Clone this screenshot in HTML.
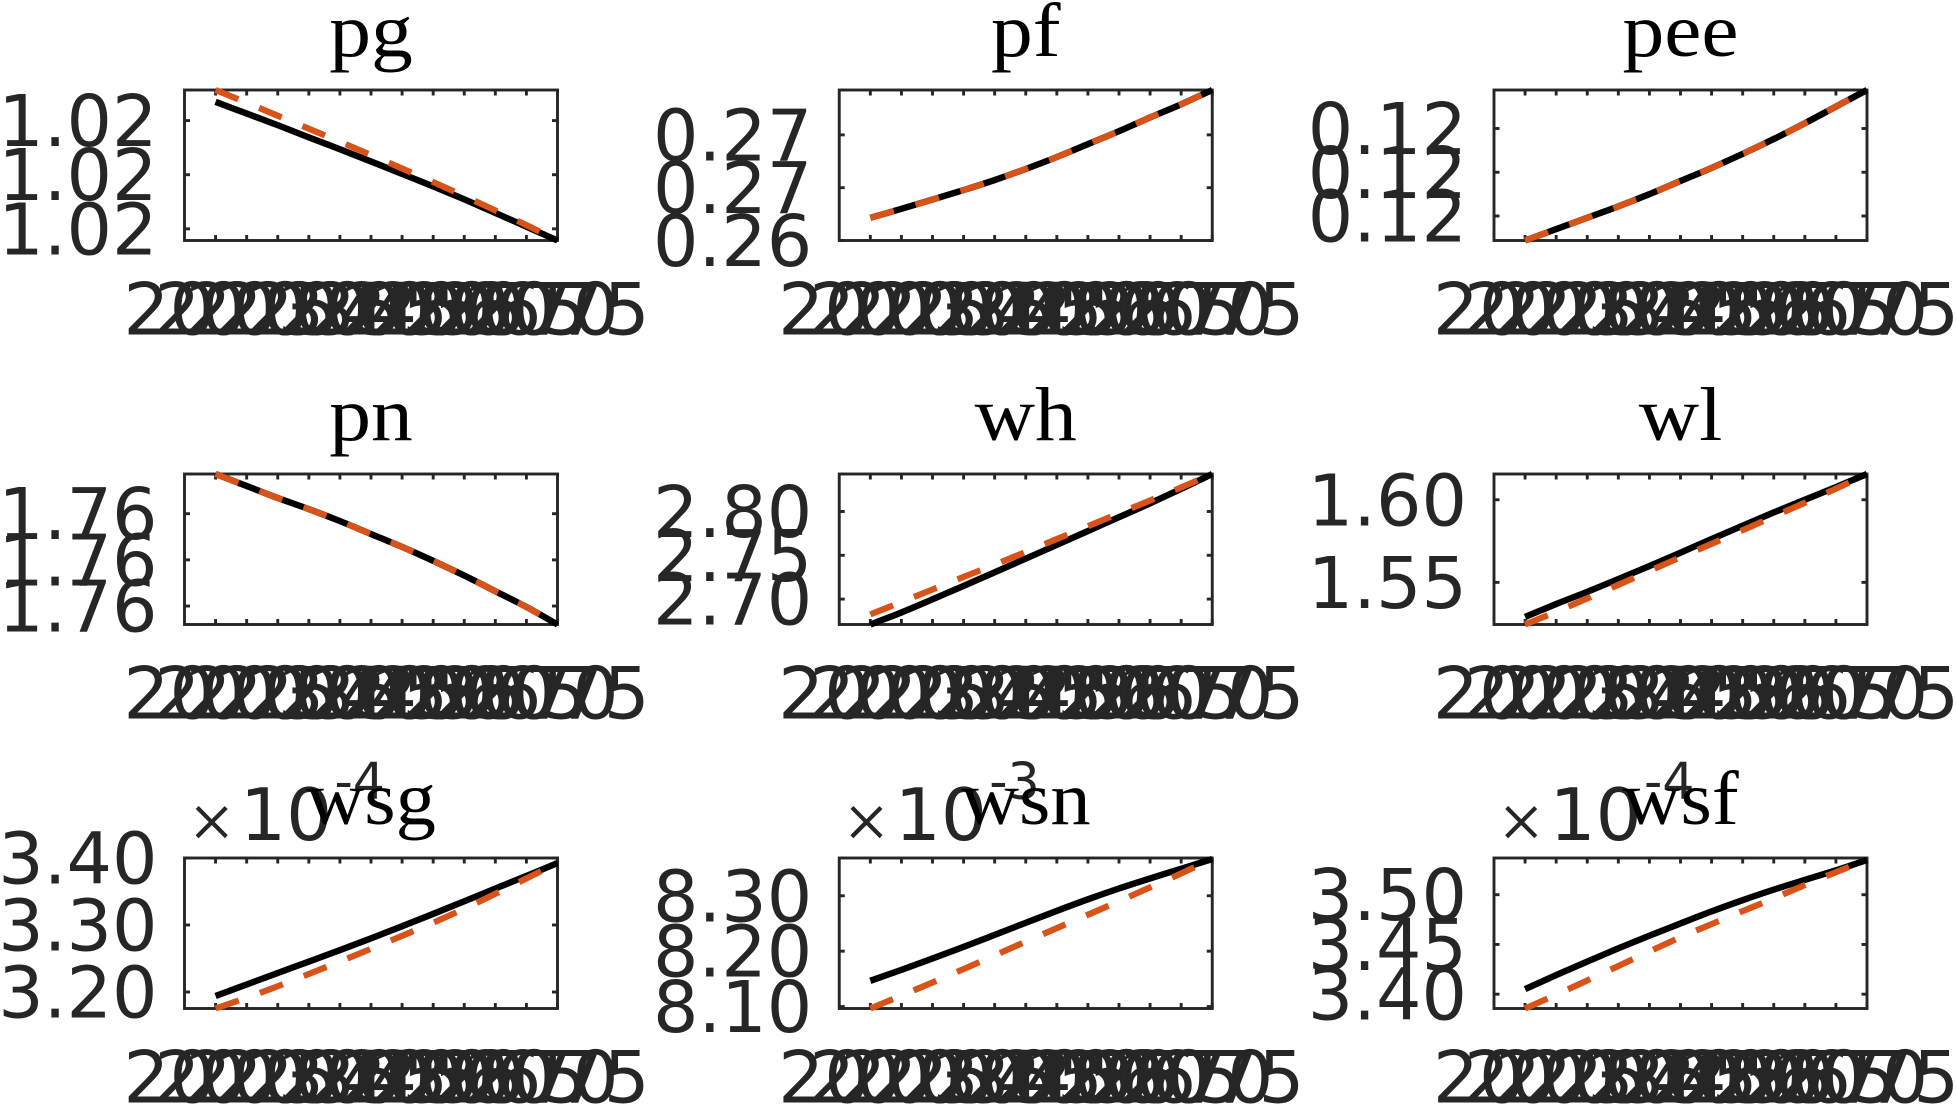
<!DOCTYPE html>
<html lang="en">
<head>
<meta charset="utf-8">
<title>Model variables: 2020-2075 transition paths</title>
<style>
  html, body { margin: 0; padding: 0; background: #fff; }
  body { width: 1956px; height: 1106px; overflow: hidden; }
  svg { display: block; }
  .tick-text { font-family: "DejaVu Sans", "Liberation Sans", sans-serif; font-size: 72.5px; fill: #262626; }
  .title-text { font-family: "Liberation Serif", serif; font-size: 76px; fill: #000; }
</style>
</head>
<body>
<svg id="chart" xmlns="http://www.w3.org/2000/svg" width="1956" height="1106" viewBox="0 0 1956 1106"></svg>
<script>
const years = [2020, 2025, 2030, 2035, 2040, 2045, 2050, 2055, 2060, 2065, 2070, 2075];
const xDomain = [2015, 2075];

const pgLim = [1.01557, 1.02113];
const pgTicks = [1.016, 1.018, 1.02];
const pgLabels = ['1.02', '1.02', '1.02'];
const pgBlack = [1.02069, 1.02026, 1.01983, 1.01938, 1.01894, 1.01849, 1.01803, 1.01757, 1.01709, 1.01659, 1.01608, 1.01557];
const pgRed = [1.02113, 1.02066, 1.02018, 1.0197, 1.01922, 1.01873, 1.01823, 1.01773, 1.01721, 1.01668, 1.01614, 1.01557];

const pfLim = [0.264, 0.2697];
const pfTicks = [0.264, 0.266, 0.268];
const pfLabels = ['0.26', '0.27', '0.27'];
const pfBlack = [0.26486, 0.2652, 0.26555, 0.26591, 0.26629, 0.26671, 0.26716, 0.26765, 0.26814, 0.26866, 0.26916, 0.2697];
const pfRed = [0.26486, 0.2652, 0.26555, 0.26591, 0.26629, 0.26671, 0.26716, 0.26765, 0.26814, 0.26866, 0.26916, 0.2697];

const peeLim = [0.11922, 0.12094];
const peeTicks = [0.1195, 0.12, 0.1205];
const peeLabels = ['0.12', '0.12', '0.12'];
const peeBlack = [0.11922, 0.11935, 0.11948, 0.11961, 0.11975, 0.1199, 0.12005, 0.12021, 0.12038, 0.12056, 0.12075, 0.12094];
const peeRed = [0.11922, 0.11935, 0.11948, 0.11961, 0.11975, 0.1199, 0.12005, 0.12021, 0.12038, 0.12056, 0.12075, 0.12094];

const pnLim = [1.7593, 1.76093];
const pnTicks = [1.7595, 1.76, 1.7605];
const pnLabels = ['1.76', '1.76', '1.76'];
const pnBlack = [1.76093, 1.7608, 1.76067, 1.76055, 1.76042, 1.76028, 1.76014, 1.75999, 1.75983, 1.75966, 1.75949, 1.7593];
const pnRed = [1.76093, 1.7608, 1.76067, 1.76055, 1.76042, 1.76028, 1.76014, 1.75999, 1.75983, 1.75966, 1.75949, 1.7593];

const whLim = [2.671, 2.8428];
const whTicks = [2.7, 2.75, 2.8];
const whLabels = ['2.70', '2.75', '2.80'];
const whBlack = [2.671, 2.6847, 2.6997, 2.715, 2.7306, 2.7462, 2.7619, 2.7777, 2.7935, 2.8093, 2.8258, 2.8428];
const whRed = [2.6825, 2.6966, 2.711, 2.7253, 2.7394, 2.7538, 2.7686, 2.7832, 2.7979, 2.8126, 2.8275, 2.8428];

const wlLim = [1.5245, 1.6156];
const wlTicks = [1.55, 1.6];
const wlLabels = ['1.55', '1.60'];
const wlBlack = [1.5291, 1.5369, 1.5443, 1.552, 1.5599, 1.568, 1.5762, 1.5843, 1.5923, 1.6, 1.6077, 1.6156];
const wlRed = [1.5245, 1.5322, 1.5403, 1.5485, 1.5569, 1.5652, 1.5733, 1.5816, 1.5899, 1.5982, 1.6067, 1.6156];

const wsgLim = [3.1754, 3.4];
const wsgTicks = [3.2, 3.3, 3.4];
const wsgLabels = ['3.20', '3.30', '3.40'];
const wsgBlack = [3.194, 3.2113, 3.2284, 3.2454, 3.2626, 3.2801, 3.2981, 3.3166, 3.3354, 3.3544, 3.3732, 3.3924];
const wsgRed = [3.1754, 3.1915, 3.2086, 3.2269, 3.2455, 3.2645, 3.2838, 3.3034, 3.3243, 3.3465, 3.3695, 3.3924];

const wsnLim = [8.0965, 8.3682];
const wsnTicks = [8.1, 8.2, 8.3];
const wsnLabels = ['8.10', '8.20', '8.30'];
const wsnBlack = [8.1465, 8.1663, 8.1868, 8.2078, 8.2294, 8.2512, 8.2728, 8.2936, 8.3131, 8.3313, 8.3488, 8.3663];
const wsnRed = [8.0965, 8.1199, 8.1435, 8.1677, 8.1924, 8.2172, 8.2416, 8.2658, 8.2902, 8.3152, 8.3403, 8.3663];

const wsfLim = [3.3856, 3.5369];
const wsfTicks = [3.4, 3.45, 3.5];
const wsfLabels = ['3.40', '3.45', '3.50'];
const wsfBlack = [3.4051, 3.4192, 3.4328, 3.4461, 3.4588, 3.4711, 3.4832, 3.4945, 3.5051, 3.5149, 3.5245, 3.5349];
const wsfRed = [3.3856, 3.3995, 3.4138, 3.4283, 3.443, 3.4572, 3.4705, 3.4835, 3.4964, 3.5097, 3.5226, 3.5349];

const titles = ['pg', 'pf', 'pee', 'pn', 'wh', 'wl', 'wsg', 'wsn', 'wsf'];
const exponents = ['', '', '', '', '', '', '-4', '-3', '-4'];
const limits = [pgLim, pfLim, peeLim, pnLim, whLim, wlLim, wsgLim, wsnLim, wsfLim];
const tickValues = [pgTicks, pfTicks, peeTicks, pnTicks, whTicks, wlTicks, wsgTicks, wsnTicks, wsfTicks];
const tickLabels = [pgLabels, pfLabels, peeLabels, pnLabels, whLabels, wlLabels, wsgLabels, wsnLabels, wsfLabels];
const blackSeries = [pgBlack, pfBlack, peeBlack, pnBlack, whBlack, wlBlack, wsgBlack, wsnBlack, wsfBlack];
const redSeries = [pgRed, pfRed, peeRed, pnRed, whRed, wlRed, wsgRed, wsnRed, wsfRed];

const NS = 'http://www.w3.org/2000/svg';
const chart = document.getElementById('chart');
const AXIS_COLOR = '#262626';
const AX_W = 373;
const AX_H = 150.5;
const TICK_LEN = 5.5;
const AXIS_WIDTH = 2.9;

function make(tag, parent, attrs) {
  const el = document.createElementNS(NS, tag);
  for (const k in attrs) el.setAttribute(k, attrs[k]);
  parent.appendChild(el);
  return el;
}

/* Smooth path through the data points (Catmull-Rom to cubic Bezier). */
function smoothPath(pts) {
  let d = 'M' + pts[0][0].toFixed(2) + ' ' + pts[0][1].toFixed(2);
  for (let k = 0; k < pts.length - 1; k++) {
    const p0 = pts[Math.max(k - 1, 0)];
    const p1 = pts[k];
    const p2 = pts[k + 1];
    const p3 = pts[Math.min(k + 2, pts.length - 1)];
    const c1x = p1[0] + (p2[0] - p0[0]) / 6;
    const c1y = p1[1] + (p2[1] - p0[1]) / 6;
    const c2x = p2[0] - (p3[0] - p1[0]) / 6;
    const c2y = p2[1] - (p3[1] - p1[1]) / 6;
    d += 'C' + c1x.toFixed(2) + ' ' + c1y.toFixed(2) + ' ' + c2x.toFixed(2) + ' ' + c2y.toFixed(2) + ' ' + p2[0].toFixed(2) + ' ' + p2[1].toFixed(2);
  }
  return d;
}

function drawPanel(i) {
  const col = i % 3;
  const row = Math.floor(i / 3);
  const left = 184.5 + 654.75 * col;
  const top = 90 + 384 * row;
  const bottom = top + AX_H;
  const lim = limits[i];
  const name = titles[i];

  const xScale = v => left + (v - xDomain[0]) / (xDomain[1] - xDomain[0]) * AX_W;
  const yScale = v => bottom - (v - lim[0]) / (lim[1] - lim[0]) * AX_H;

  const g = make('g', chart, {});
  
  

  const frame = make('rect', g, { x: left, y: top, width: AX_W, height: AX_H, fill: '#fff', stroke: AXIS_COLOR, 'stroke-width': AXIS_WIDTH });
  
  

  years.forEach(function (yr) {
    const x = xScale(yr);
    const tb = make('line', g, { x1: x, x2: x, y1: bottom, y2: bottom - TICK_LEN, stroke: AXIS_COLOR, 'stroke-width': AXIS_WIDTH });
    
    
    const tt = make('line', g, { x1: x, x2: x, y1: top, y2: top + TICK_LEN, stroke: AXIS_COLOR, 'stroke-width': AXIS_WIDTH });
    
    
    const lab = make('text', g, { x: x, y: bottom + 94, 'text-anchor': 'middle', class: 'tick-text' });
    lab.textContent = String(yr);
    
    
  });

  tickValues[i].forEach(function (v, k) {
    const y = yScale(v);
    const tl = make('line', g, { x1: left, x2: left + TICK_LEN, y1: y, y2: y, stroke: AXIS_COLOR, 'stroke-width': AXIS_WIDTH });
    
    
    const tr = make('line', g, { x1: left + AX_W, x2: left + AX_W - TICK_LEN, y1: y, y2: y, stroke: AXIS_COLOR, 'stroke-width': AXIS_WIDTH });
    
    
    const lab = make('text', g, { x: left - 27, y: y + 25.5, 'text-anchor': 'end', class: 'tick-text', style: 'font-size:71.5px' });
    lab.textContent = tickLabels[i][k];
    
    
  });

  const toPts = vals => vals.map((v, k) => [xScale(years[k]), yScale(v)]);

  const black = make('path', g, { d: smoothPath(toPts(blackSeries[i])), fill: 'none', stroke: '#000', 'stroke-width': 6.4 });
  
  

  const red = make('path', g, { d: smoothPath(toPts(redSeries[i])), fill: 'none', stroke: '#D95319', 'stroke-width': 6.2, 'stroke-dasharray': '24.5 22.5' });
  
  

  if (exponents[i]) {
    const times = make('text', g, { x: left + 5, y: top - 10.5, 'text-anchor': 'start', class: 'tick-text', style: 'font-family:"Liberation Sans",sans-serif;font-size:76px;stroke:#fff;stroke-width:1.2px' });
    times.textContent = '\u00D7';
    
    
    const ten = make('text', g, { x: left + 55.5, y: top - 18, 'text-anchor': 'start', class: 'tick-text' });
    ten.textContent = '10';
    
    
    const pow = make('text', g, { x: left + 150, y: top - 59, 'text-anchor': 'start', class: 'tick-text', style: 'font-size:50.7px' });
    pow.textContent = exponents[i];
    
    
  }

  const stretch = name.startsWith('ws') ? 1.06 : 1.1;
  const title = make('text', g, { x: 0, y: 0, 'text-anchor': 'middle', class: 'title-text', transform: 'translate(' + (left + AX_W / 2) + ' ' + (top - 33.8) + ') scale(' + stretch + ' 1)' });
  title.textContent = name;
  
  
}

titles.forEach(function (t, i) { drawPanel(i); });
</script>
</body>
</html>
